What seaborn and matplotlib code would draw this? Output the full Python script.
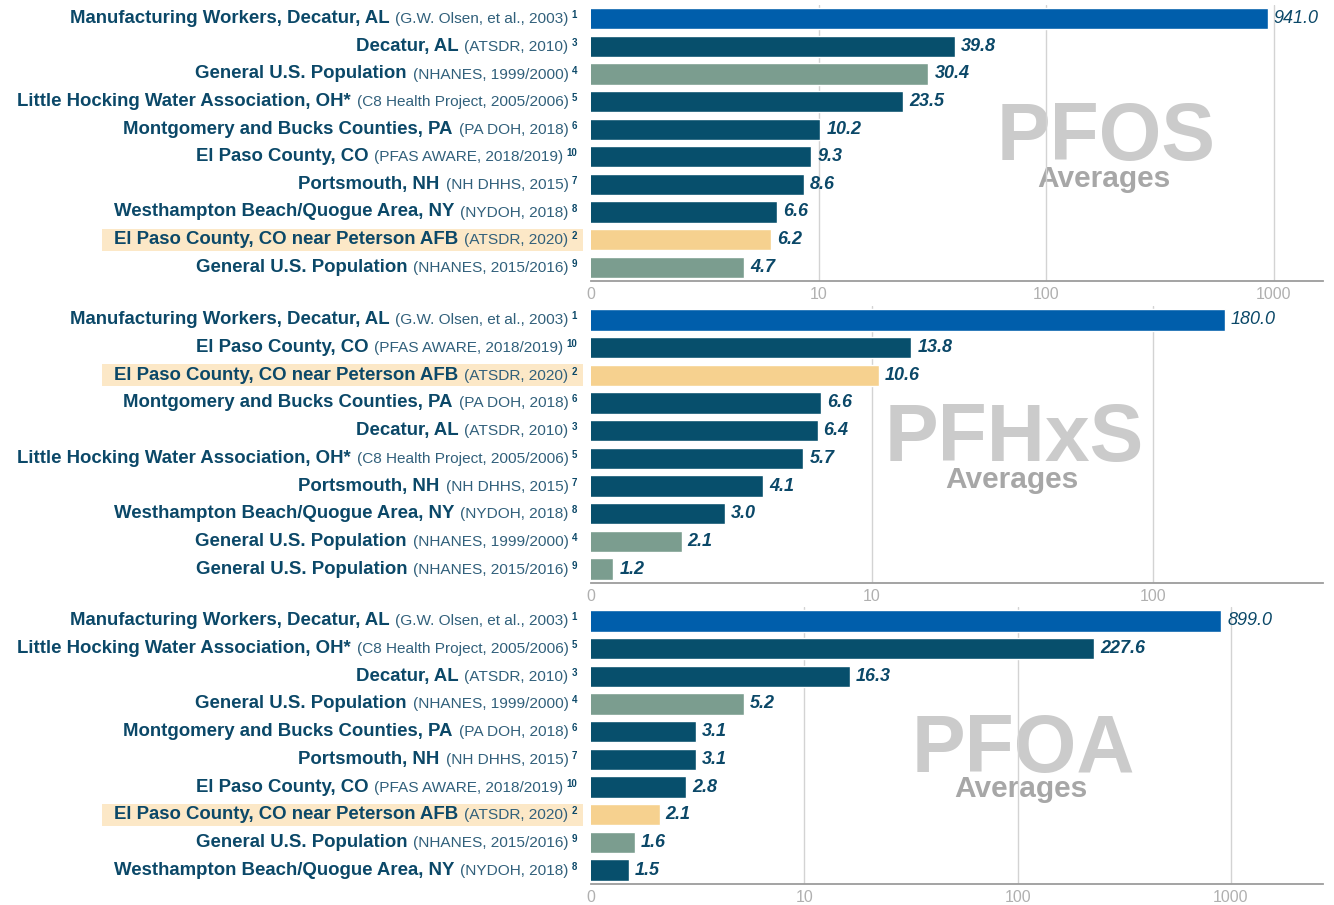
"""PFOS / PFHxS / PFOA serum averages, three stacked log-scale bar panels."""

import matplotlib
matplotlib.use("Agg")
import matplotlib.pyplot as plt  # noqa: E402
import matplotlib.transforms as mtransforms  # noqa: E402
import pandas as pd  # noqa: E402
import seaborn as sns  # noqa: E402
from matplotlib.patches import Rectangle  # noqa: E402

# ---------------- data ----------------

SITE_KEYS = ["mfg", "decatur", "us9900", "hocking", "montgomery",
             "elpaso", "portsmouth", "westhampton", "peterson", "us1516"]
SITE_NAMES = ["Manufacturing Workers, Decatur, AL", "Decatur, AL",
              "General U.S. Population", "Little Hocking Water Association, OH*",
              "Montgomery and Bucks Counties, PA", "El Paso County, CO",
              "Portsmouth, NH", "Westhampton Beach/Quogue Area, NY",
              "El Paso County, CO near Peterson AFB", "General U.S. Population"]
SITE_SOURCES = ["(G.W. Olsen, et al., 2003)", "(ATSDR, 2010)", "(NHANES, 1999/2000)",
                "(C8 Health Project, 2005/2006)", "(PA DOH, 2018)",
                "(PFAS AWARE, 2018/2019)", "(NH DHHS, 2015)", "(NYDOH, 2018)",
                "(ATSDR, 2020)", "(NHANES, 2015/2016)"]
SITE_REFS = ["1", "3", "4", "5", "6", "10", "7", "8", "2", "9"]
SITE_GROUPS = ["worker", "community", "general", "community", "community",
               "community", "community", "community", "peterson", "general"]

PFOS_SITES = ["mfg", "decatur", "us9900", "hocking", "montgomery",
              "elpaso", "portsmouth", "westhampton", "peterson", "us1516"]
PFOS_VALUES = [941.0, 39.8, 30.4, 23.5, 10.2, 9.3, 8.6, 6.6, 6.2, 4.7]

PFHXS_SITES = ["mfg", "elpaso", "peterson", "montgomery", "decatur",
               "hocking", "portsmouth", "westhampton", "us9900", "us1516"]
PFHXS_VALUES = [180.0, 13.8, 10.6, 6.6, 6.4, 5.7, 4.1, 3.0, 2.1, 1.2]

PFOA_SITES = ["mfg", "hocking", "decatur", "us9900", "montgomery",
              "portsmouth", "elpaso", "peterson", "us1516", "westhampton"]
PFOA_VALUES = [899.0, 227.6, 16.3, 5.2, 3.1, 3.1, 2.8, 2.1, 1.6, 1.5]

TICK_VALUES = [1, 10, 100, 1000]
TICK_LABELS = ["0", "10", "100", "1000"]

# ---------------- style ----------------

GROUP_COLORS = {"worker": "#005eab", "community": "#074f6c",
                "general": "#7b9d8f", "peterson": "#f6d18f"}
TEXT = "#0b4868"
SOURCE_TEXT = "#31607b"
HIGHLIGHT = "#fce8c7"

W, H = 1334, 905
sns.set_style("white")
plt.rcParams["font.family"] = ["Liberation Sans", "DejaVu Sans"]

fig = plt.figure(figsize=(W / 100, H / 100), dpi=100)
renderer = fig.canvas.get_renderer()
ident = mtransforms.IdentityTransform()

site_idx = {k: i for i, k in enumerate(SITE_KEYS)}
palette = {k: GROUP_COLORS[g] for k, g in zip(SITE_KEYS, SITE_GROUPS)}

# (name, sites, values, xmax, top px, bottom px, watermark x, baselines px)
PANELS = [
    ("PFOS", PFOS_SITES, PFOS_VALUES, 1650, 5, 281, 1106, 160, 187),
    ("PFHxS", PFHXS_SITES, PFHXS_VALUES, 403, 306, 583, 1014, 461, 488),
    ("PFOA", PFOA_SITES, PFOA_VALUES, 2700, 607, 884, 1023, 772, 797),
]


def px_rect(top, bottom, left=591, right=1323):
    return [left / W, 1 - bottom / H, (right - left) / W, (bottom - top) / H]


def draw_row_label(ax, i, key):
    j = site_idx[key]
    yc = ax.transData.transform((1, i))[1]
    base = yc - 4.5
    x = 577
    t = fig.text(x, base + 5, SITE_REFS[j], transform=ident, ha="right",
                 va="baseline", fontsize=7, fontweight="bold", color=TEXT)
    x -= t.get_window_extent(renderer).width + 3
    t = fig.text(x, base, SITE_SOURCES[j], transform=ident, ha="right",
                 va="baseline", fontsize=11.05, color=SOURCE_TEXT)
    x -= t.get_window_extent(renderer).width + 6
    t = fig.text(x, base, SITE_NAMES[j], transform=ident, ha="right",
                 va="baseline", fontsize=13.45, fontweight="bold", color=TEXT)
    if SITE_GROUPS[j] == "peterson":
        left = t.get_window_extent(renderer).x0 - 12
        box = Rectangle((left, yc - 11), 583 - left, 22, transform=ident,
                        facecolor=HIGHLIGHT, edgecolor="none", zorder=0)
        fig.add_artist(box)


for name, sites, values, xmax, top, bottom, wx, wy, avg_y in PANELS:
    ax = fig.add_axes(px_rect(top, bottom))
    df = pd.DataFrame({"site": sites, "value": values})
    sns.barplot(data=df, x="value", y="site", hue="site", order=sites,
                hue_order=sites, palette=palette, legend=False, errorbar=None,
                saturation=1, width=0.77, orient="h", ax=ax)
    ax.set_xscale("log")
    ax.set_xlim(1, xmax)
    ax.set_ylim(9.5, -0.5)
    ax.minorticks_off()

    ticks = [t for t in TICK_VALUES if t <= xmax]
    ax.set_xticks(ticks)
    ax.set_xticklabels(TICK_LABELS[:len(ticks)])
    ax.tick_params(axis="x", length=0, pad=4, labelsize=11.5, labelcolor="#b0b0b0")
    ax.set_yticks([])
    ax.set_xlabel("")
    ax.set_ylabel("")
    for g in ticks[1:]:
        ax.axvline(g, color="#d3d3d3", lw=1, zorder=0.5)
    sns.despine(ax=ax, left=True)
    ax.spines["bottom"].set_color("#9c9c9c")
    ax.spines["bottom"].set_linewidth(1.3)

    # watermark behind gridlines
    ax.text(wx, H - wy, name, transform=ident, ha="center", va="baseline",
            fontsize=58, fontweight="bold", color="#cbcbcb", zorder=0.2)
    ax.text(wx - 2, H - avg_y, "Averages", transform=ident, ha="center",
            va="baseline", fontsize=21.5, fontweight="bold", color="#a7a7a7", zorder=0.2)

    for i, v in enumerate(values):
        ax.annotate(f"{v:.1f}", (v, i), xytext=(6, 0), textcoords="offset pixels",
                    ha="left", va="center", fontsize=13, fontstyle="italic",
                    fontweight="normal" if i == 0 else "bold", color=TEXT)
        draw_row_label(ax, i, sites[i])

fig.savefig("out.png", dpi=100)
